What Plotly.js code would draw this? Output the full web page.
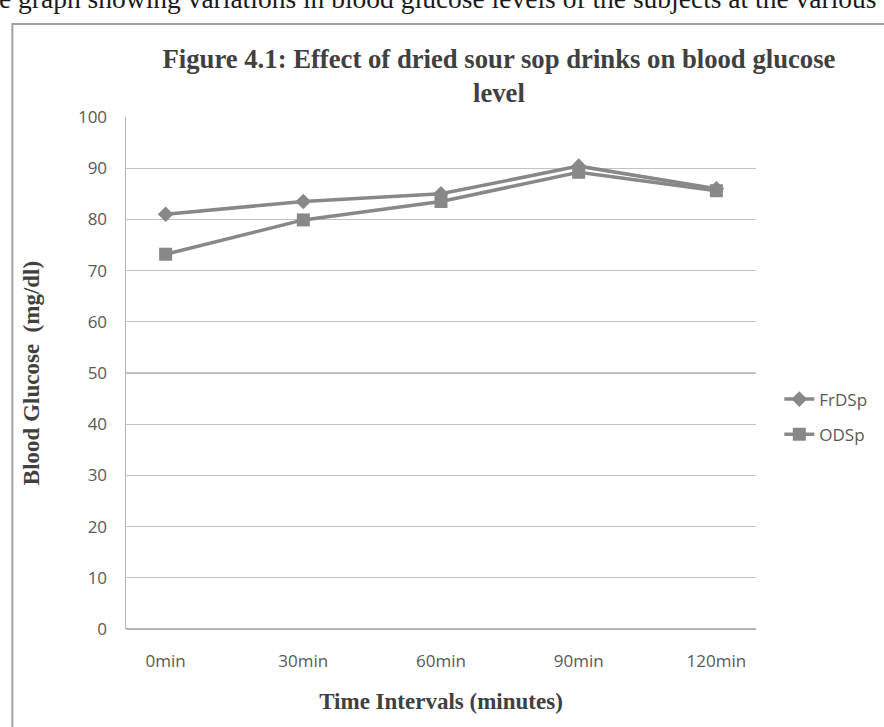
<!DOCTYPE html>
<html>
<head>
<meta charset="utf-8">
<script src="https://cdn.plot.ly/plotly-3.0.1.min.js"></script>
<style>
html,body{margin:0;padding:0;background:#fff;}
#chart{width:884px;height:727px;}
</style>
</head>
<body>
<div id="chart"></div>
<script>
const categories = ["0min", "30min", "60min", "90min", "120min"];
const frdsp = [81.0, 83.5, 85.0, 90.4, 86.0];
const odsp = [73.2, 79.9, 83.5, 89.2, 85.6];
const yTicks = [0, 10, 20, 30, 40, 50, 60, 70, 80, 90, 100];

const grey = "#888888";
const traces = [
  {
    x: categories, y: frdsp, name: "FrDSp", type: "scatter", mode: "lines+markers",
    legendgroup: "a",
    line: {color: grey, width: 3.5},
    marker: {symbol: "diamond", size: 12, color: grey}
  },
  {
    x: categories, y: odsp, name: "ODSp", type: "scatter", mode: "lines+markers",
    legendgroup: "b",
    line: {color: grey, width: 3.5},
    marker: {symbol: "square", size: 13, color: grey}
  }
];

const layout = {
  width: 884, height: 727,
  margin: {l: 126, r: 126, t: 117, b: 98},
  paper_bgcolor: "#ffffff", plot_bgcolor: "#ffffff",
  showlegend: true,
  title: {
    text: "<b>Figure 4.1: Effect of dried sour sop drinks on blood glucose<br>level</b>",
    font: {family: "Liberation Serif", size: 26.7, color: "#404040"},
    x: 0.592, xref: "paper", xanchor: "center",
    y: 0.907, yanchor: "top"
  },
  xaxis: {
    type: "category",
    showgrid: false, zeroline: false,
    showline: false,
    tickfont: {family: "Open Sans", size: 17, color: "#595959"},
    ticks: "", ticklabelstandoff: 20,
    title: {text: "<b>Time Intervals (minutes)</b>", font: {family: "Liberation Serif", size: 23, color: "#404040"}, standoff: 21},
    fixedrange: true
  },
  yaxis: {
    range: [0, 100], tickvals: yTicks, ticktext: yTicks.map(String),
    showgrid: true, gridcolor: "#c2c2c2", gridwidth: 1.3,
    zeroline: true, zerolinecolor: "#b4b4b4", zerolinewidth: 1.5,
    showline: true, linecolor: "#b4b4b4", linewidth: 1.5,
    ticks: "", ticklabelstandoff: 14,
    tickfont: {family: "Open Sans", size: 17, color: "#595959"},
    title: {text: "<b>Blood Glucose  (mg/dl)</b>", font: {family: "Liberation Serif", size: 23, color: "#404040"}, standoff: 32},
    fixedrange: true
  },
  legend: {
    x: 1.037, xanchor: "left", y: 0.414, yanchor: "middle",
    font: {family: "Open Sans", size: 17, color: "#595959"},
    traceorder: "grouped", tracegroupgap: 10,
    itemwidth: 30, bgcolor: "rgba(0,0,0,0)"
  },
  shapes: [
    {type: "rect", xref: "paper", yref: "paper", x0: -0.1804, x1: 2, y0: -1, y1: 1.1816,
     line: {color: "#a0a0a0", width: 2}, fillcolor: "rgba(0,0,0,0)", layer: "below"}
  ],
  annotations: [
    {text: "e graph showing variations in blood glucose levels of the subjects at the various",
     xref: "paper", yref: "paper", x: -0.205, xanchor: "left", y: 1.232, yanchor: "middle",
     showarrow: false, font: {family: "Liberation Serif", size: 27.5, color: "#1a1a1a"}}
  ]
};

Plotly.newPlot("chart", traces, layout, {displayModeBar: false, staticPlot: true});
</script>
</body>
</html>
